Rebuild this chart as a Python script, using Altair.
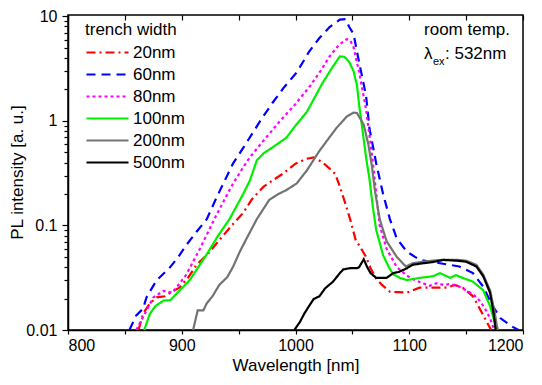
import altair as alt
import pandas as pd

FONT = "Liberation Sans"

SERIES = ["20nm", "60nm", "80nm", "100nm", "200nm", "500nm"]
COLORS = ["#ff0000", "#0000ff", "#ff00ff", "#00ee00", "#737373", "#000000"]
DASHES = [[9, 4, 2, 4], [9, 6], [3, 3], [1, 0], [1, 0], [1, 0]]

X_TICKS = [800, 850, 900, 950, 1000, 1050, 1100, 1150, 1200]
Y_TICKS = [0.01, 0.02, 0.03, 0.04, 0.05, 0.06, 0.07, 0.08, 0.09,
           0.1, 0.2, 0.3, 0.4, 0.5, 0.6, 0.7, 0.8, 0.9,
           1, 2, 3, 4, 5, 6, 7, 8, 9, 10]

# 20nm
WL_20 = [862, 866, 872, 878, 885, 892, 898, 905, 913, 922, 934, 944, 954, 962, 972, 980, 989, 1000, 1010, 1016,
         1024, 1030, 1035, 1039, 1044, 1048, 1053, 1057, 1062, 1066, 1071, 1076, 1083, 1090, 1098, 1109, 1121, 1133,
         1140, 1147, 1156, 1162, 1168, 1172]
PL_20 = [0.01, 0.0143, 0.018, 0.0205, 0.021, 0.0235, 0.0254, 0.031, 0.042, 0.052, 0.0745, 0.1, 0.132, 0.18, 0.235,
         0.27, 0.313, 0.39, 0.435, 0.448, 0.40, 0.35, 0.31, 0.235, 0.16, 0.115, 0.072, 0.062, 0.05, 0.039, 0.031,
         0.027, 0.0232, 0.023, 0.0228, 0.0254, 0.0254, 0.0254, 0.027, 0.0254, 0.021, 0.016, 0.012, 0.01]
# 60nm
WL_60 = [854, 860, 866, 869, 878, 889, 897, 904, 913, 922, 931, 945, 957, 969, 980, 990, 1001, 1012, 1021, 1030,
         1039, 1044, 1047, 1051, 1056, 1062, 1065, 1071, 1077, 1083, 1089, 1098, 1109, 1127, 1144, 1156, 1165, 1172,
         1180, 1191, 1196]
PL_60 = [0.01, 0.0138, 0.016, 0.0205, 0.030, 0.039, 0.05, 0.065, 0.087, 0.115, 0.189, 0.39, 0.62, 1.0, 1.5, 2.1,
         2.9, 4.6, 6.2, 7.9, 9.3, 9.4, 8.0, 6.8, 3.6, 1.75, 0.85, 0.39, 0.20, 0.115, 0.075, 0.056, 0.047, 0.0435,
         0.0405, 0.035, 0.026, 0.018, 0.013, 0.0107, 0.01]
# 80nm
WL_80 = [860, 866, 875, 884, 892, 904, 916, 930, 939, 945, 954, 960, 972, 986, 1000, 1013, 1022, 1030, 1038, 1045,
         1048, 1051, 1056, 1062, 1066, 1068, 1071, 1074, 1080, 1089, 1098, 1105, 1112, 1118, 1124, 1130, 1136, 1144,
         1150, 1156, 1162, 1166, 1171, 1174, 1175]
PL_80 = [0.01, 0.0133, 0.0205, 0.0237, 0.0228, 0.0339, 0.06, 0.123, 0.189, 0.25, 0.36, 0.45, 0.65, 0.986, 1.45,
         2.17, 3.0, 4.14, 5.3, 6.05, 5.9, 5.1, 2.9, 1.3, 0.6, 0.40, 0.2, 0.1, 0.06, 0.040, 0.033, 0.030, 0.028,
         0.0265, 0.028, 0.027, 0.0275, 0.026, 0.024, 0.022, 0.019, 0.0165, 0.013, 0.0105, 0.01]
# 100nm
WL_100 = [867, 872, 877, 884, 890, 895, 907, 922, 932, 942, 954, 960, 966, 972, 980, 992, 1000, 1010, 1024, 1032,
          1039, 1043, 1047, 1051, 1054, 1056, 1059, 1062, 1065, 1068, 1071, 1077, 1082, 1086, 1092, 1098, 1109, 1121,
          1127, 1136, 1141, 1147, 1156, 1165, 1171, 1175, 1177]
PL_100 = [0.01, 0.0143, 0.017, 0.0191, 0.0193, 0.022, 0.030, 0.053, 0.08, 0.115, 0.2, 0.27, 0.42, 0.49, 0.56, 0.69,
          0.9, 1.22, 2.33, 3.2, 4.14, 4.1, 3.7, 3.0, 2.2, 1.41, 0.8, 0.45, 0.28, 0.15, 0.09, 0.052, 0.04, 0.034,
          0.0315, 0.030, 0.0315, 0.0327, 0.035, 0.0315, 0.0335, 0.0315, 0.029, 0.024, 0.017, 0.012, 0.01]
# 200nm
WL_200 = [910, 914, 919, 922, 927, 933, 940, 945, 951, 957, 966, 977, 985, 992, 1001, 1010, 1021, 1030, 1036, 1045,
          1051, 1054, 1060, 1064, 1067, 1070, 1074, 1080, 1089, 1097, 1103, 1112, 1120, 1130, 1142, 1150, 1159, 1165,
          1171, 1175, 1177, 1178]
PL_200 = [0.01, 0.0154, 0.0154, 0.018, 0.021, 0.027, 0.032, 0.040, 0.056, 0.075, 0.115, 0.176, 0.20, 0.218, 0.252,
          0.336, 0.516, 0.70, 0.855, 1.1, 1.2, 1.19, 0.92, 0.6, 0.38, 0.21, 0.115, 0.071, 0.050, 0.0405, 0.0435,
          0.045, 0.046, 0.047, 0.047, 0.046, 0.042, 0.034, 0.024, 0.015, 0.011, 0.01]
# 500nm
WL_500 = [999, 1004, 1008, 1012, 1016, 1021, 1026, 1033, 1039, 1042, 1048, 1054, 1056, 1060, 1063, 1066, 1071, 1080,
          1086, 1091, 1098, 1103, 1112, 1120, 1130, 1142, 1150, 1159, 1165, 1171, 1174, 1176]
PL_500 = [0.01, 0.012, 0.0145, 0.017, 0.0198, 0.021, 0.025, 0.029, 0.035, 0.038, 0.039, 0.039, 0.040, 0.0475, 0.040,
          0.035, 0.0315, 0.0315, 0.035, 0.036, 0.039, 0.042, 0.0435, 0.0445, 0.0468, 0.046, 0.045, 0.0405, 0.0327,
          0.0228, 0.0148, 0.01]

ANNOT_ROOM = "room temp."
ANNOT_LAMBDA = "λ"
ANNOT_SUB = "ex"
ANNOT_EXC = ": 532nm"

frames = []
for name, wl, pl in [("20nm", WL_20, PL_20), ("60nm", WL_60, PL_60), ("80nm", WL_80, PL_80),
                     ("100nm", WL_100, PL_100), ("200nm", WL_200, PL_200), ("500nm", WL_500, PL_500)]:
    frames.append(pd.DataFrame({"series": name, "wavelength": wl, "intensity": pl}))
df = pd.concat(frames, ignore_index=True)

MAJOR = "abs(log(datum.value)/LN10 - round(log(datum.value)/LN10)) < 0.01"

legend = alt.Legend(
    title="trench width", orient="none", legendX=17, legendY=7,
    symbolType="M-1,0H3.2", symbolSize=400, symbolStrokeWidth=2.2, rowPadding=2, titlePadding=2,
    labelFontSize=17, titleFontSize=17, titleFontWeight="normal", labelFont=FONT, titleFont=FONT,
    padding=0, labelOffset=25, labelColor="black", titleColor="black", symbolOpacity=1,
)

x_scale = alt.Scale(domain=[800, 1200], nice=False)
y_scale = alt.Scale(type="log", domain=[0.01, 10.3], nice=False)

lines = alt.Chart(df).mark_line(strokeWidth=2.2, clip=True).encode(
    x=alt.X("wavelength:Q", scale=x_scale,
            axis=alt.Axis(orient="bottom", values=X_TICKS, title="Wavelength [nm]",
                          labelExpr="datum.value % 100 == 0 ? format(datum.value, 'd') : ''",
                          labelOverlap=False, tickSize=4, labelPadding=3, grid=False,
                          titleY=35, titleBaseline="middle")),
    y=alt.Y("intensity:Q", scale=y_scale,
            axis=alt.Axis(orient="left", values=Y_TICKS, title="PL intensity [a. u.]",
                          labelExpr=MAJOR + " ? format(datum.value, '~g') : ''",
                          labelOverlap=False, grid=False,
                          tickSize={"condition": {"test": MAJOR, "value": 6}, "value": 4},
                          labelPadding=5, titleX=-51, titleY=157, titleBaseline="middle")),
    color=alt.Color("series:N", scale=alt.Scale(domain=SERIES, range=COLORS), legend=legend),
    strokeDash=alt.StrokeDash("series:N", scale=alt.Scale(domain=SERIES, range=DASHES), legend=legend),
)

top = alt.Chart(df).mark_point(opacity=0).encode(
    x=alt.X("wavelength:Q",
            axis=alt.Axis(orient="top", values=X_TICKS, labels=False, domain=False, tickSize=5,
                          offset=-5, title=None, grid=False)),
)

ann = pd.DataFrame({"room": [ANNOT_ROOM], "lam": [ANNOT_LAMBDA], "sub": [ANNOT_SUB], "exc": [ANNOT_EXC]})
t_room = alt.Chart(ann).mark_text(align="right", baseline="alphabetic", fontSize=17, font=FONT,
                                  color="black").encode(x=alt.value(442), y=alt.value(20), text="room:N")
t_lam = alt.Chart(ann).mark_text(align="left", baseline="alphabetic", fontSize=17, font=FONT,
                                 color="black").encode(x=alt.value(356), y=alt.value(44), text="lam:N")
t_sub = alt.Chart(ann).mark_text(align="left", baseline="alphabetic", fontSize=11, font=FONT,
                                 color="black").encode(x=alt.value(365), y=alt.value(50), text="sub:N")
t_exc = alt.Chart(ann).mark_text(align="left", baseline="alphabetic", fontSize=17, font=FONT,
                                 color="black").encode(x=alt.value(377), y=alt.value(44), text="exc:N")

chart = alt.layer(lines, top, t_room, t_lam, t_sub, t_exc).resolve_axis(x="independent").properties(
    width=455, height=315, autosize="none", background="white",
    padding={"left": 60, "top": 7, "right": 10, "bottom": 45},
).configure_view(stroke="black", strokeWidth=1.5).configure_axis(
    grid=False, domainColor="black", domainWidth=1.5, tickColor="black", tickWidth=1.2,
    labelFont=FONT, labelFontSize=16, labelColor="black",
    titleFont=FONT, titleFontSize=17, titleFontWeight="normal", titleColor="black",
)

chart.save("out.html", embed_options={"renderer": "svg", "actions": False})
